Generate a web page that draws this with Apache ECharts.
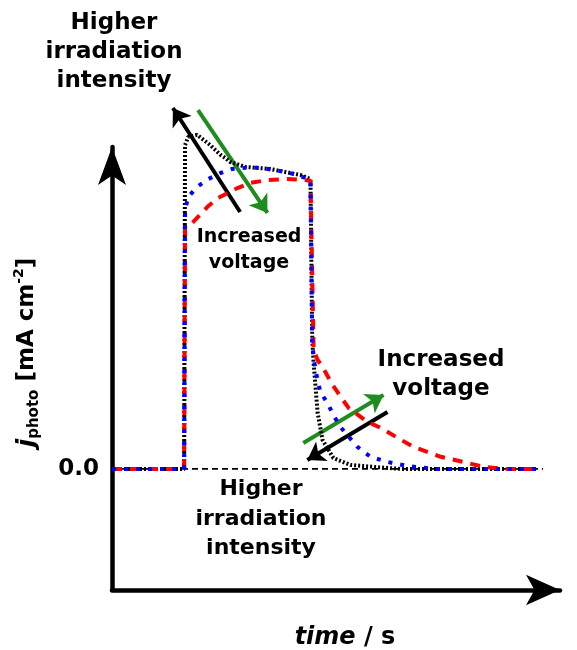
<!DOCTYPE html>
<html>
<head>
<meta charset="utf-8">
<script src="https://cdn.jsdelivr.net/npm/echarts@6/dist/echarts.min.js"></script>
<style>
  html, body { margin: 0; padding: 0; background: #fff; }
  #chart { width: 577px; height: 650px; }
</style>
</head>
<body>
<div id="chart"></div>
<script>
// photocurrent transients, [time, j] pairs (j normalised to plateau = 1)
var blackCurve = [
  [0, 0], [16.1, 0], [16.3, 1.12], [17.0, 1.149], [19.0, 1.156], [21.9, 1.121],
  [24.2, 1.087], [25.3, 1.076], [26.4, 1.062], [29.8, 1.045], [35.3, 1.038],
  [42.1, 1.017], [44.3, 1.003], [44.5, 0.997], [44.7, 0.446], [45.0, 0.367],
  [45.9, 0.194], [47.0, 0.100], [49.4, 0.038], [53.2, 0.014], [58.4, 0.007],
  [64.4, 0], [95.1, 0]
];
var blueCurve = [
  [0, 0], [16.1, 0], [16.3, 0.896], [17.0, 0.941], [19.0, 0.976], [21.5, 1.003],
  [24.2, 1.024], [26.8, 1.038], [29.8, 1.042], [33.1, 1.042], [35.8, 1.035],
  [38.7, 1.028], [41.4, 1.017], [44.3, 1.0], [44.5, 0.997], [44.7, 0.429],
  [45.4, 0.343], [46.5, 0.266], [48.1, 0.228], [49.4, 0.187], [51.0, 0.145],
  [54.8, 0.076], [57.7, 0.042], [61.5, 0.024], [66.0, 0.010], [71.8, 0], [95.1, 0]
];
var redCurve = [
  [0, 0], [16.1, 0], [16.3, 0.844], [17.9, 0.851], [21.3, 0.907], [23.7, 0.938],
  [28.0, 0.972], [30.9, 0.990], [34.9, 1.0], [39.1, 1.003], [42.7, 1.0],
  [44.3, 0.997], [45.0, 0.412], [45.9, 0.377], [47.0, 0.353], [49.2, 0.291],
  [52.8, 0.211], [57.0, 0.163], [60.0, 0.142], [63.8, 0.107], [67.3, 0.076],
  [73.4, 0.042], [78.5, 0.024], [83.0, 0.007], [87.5, 0], [95.1, 0]
];
var zeroLine = [[0, 0], [96.2, 0]];

// annotation arrows: [tail, tip]
var blackArrowUp = [[28.6, 0.889], [13.6, 1.249]];
var greenArrowUp = [[19.2, 1.242], [34.7, 0.886]];
var greenArrowDown = [[42.7, 0.090], [60.6, 0.256]];
var blackArrowDown = [[61.5, 0.197], [43.6, 0.031]];

var yTicks = [0];

var FONT = 'DejaVu Sans';
var chart = echarts.init(document.getElementById('chart'), null, { renderer: 'canvas' });

function curve(name, data, color, width, dash) {
  return {
    name: name,
    type: 'line',
    data: data,
    symbol: 'none',
    clip: false,
    silent: true,
    lineStyle: { color: color, width: width, type: dash, cap: 'butt' }
  };
}

function arrow(coords, color) {
  return {
    type: 'lines',
    coordinateSystem: 'cartesian2d',
    clip: false,
    silent: true,
    symbol: ['none', 'arrow'],
    symbolSize: 17,
    lineStyle: { color: color, width: 4, opacity: 1, curveness: 0 },
    data: [{ coords: coords }]
  };
}

function note(cx, top, text, size, lh) {
  return {
    type: 'text', x: cx, y: top, silent: true,
    style: { text: text, align: 'center', verticalAlign: 'top',
      font: 'bold ' + size + 'px "DejaVu Sans"', lineHeight: lh, fill: '#000' }
  };
}

var option = {
  animation: false,
  backgroundColor: '#fff',
  grid: { left: 112, right: 17, top: 147, bottom: 60, containLabel: false, outerBoundsMode: 'none' },
  xAxis: {
    type: 'value',
    min: 0,
    max: 100,
    name: '{t|time}{s| / s}',
    nameLocation: 'middle',
    nameGap: 36,
    nameTextStyle: {
      padding: [0, 0, 0, 18],
      rich: {
        t: { fontFamily: FONT, fontSize: 24, fontWeight: 'bold', fontStyle: 'italic', color: '#000' },
        s: { fontFamily: FONT, fontSize: 24, fontWeight: 'bold', color: '#000' }
      }
    },
    axisLine: {
      onZero: false,
      symbol: ['none', 'arrow'],
      symbolSize: [23, 34],
      lineStyle: { color: '#000', width: 4.5 }
    },
    axisTick: { show: false },
    axisLabel: { show: false },
    splitLine: { show: false }
  },
  yAxis: {
    type: 'value',
    min: -0.419,
    max: 1.114,
    name: '{j|j}{sub|photo}{m| [mA cm}{sup|-2}{m|]}',
    nameLocation: 'middle',
    nameGap: 70,
    nameRotate: 90,
    nameTextStyle: {
      padding: [0, 0, 0, 32],
      rich: {
        j: { fontFamily: FONT, fontSize: 25, fontWeight: 'bold', fontStyle: 'italic', color: '#000', lineHeight: 30 },
        sub: { fontFamily: FONT, fontSize: 15, fontWeight: 'bold', color: '#000', lineHeight: 16, verticalAlign: 'bottom' },
        m: { fontFamily: FONT, fontSize: 23, fontWeight: 'bold', color: '#000', lineHeight: 30 },
        sup: { fontFamily: FONT, fontSize: 14, fontWeight: 'bold', color: '#000', lineHeight: 15, verticalAlign: 'top' }
      }
    },
    axisLine: {
      symbol: ['none', 'arrow'],
      symbolSize: [21, 38],
      lineStyle: { color: '#000', width: 4.5 }
    },
    axisTick: { show: false },
    axisLabel: {
      customValues: yTicks,
      margin: 13,
      fontFamily: FONT,
      fontSize: 23,
      fontWeight: 'bold',
      color: '#000',
      formatter: function (v) { return v.toFixed(1); }
    },
    splitLine: { show: false }
  },
  graphic: [
    note(114, 9, 'Higher\nirradiation\nintensity', 23, 29),
    note(249, 224, 'Increased\nvoltage', 19, 26),
    note(441, 346, 'Increased\nvoltage', 23, 29),
    note(261, 475, 'Higher\nirradiation\nintensity', 22, 29.5)
  ],
  series: [
    curve('zero', zeroLine, '#000', 1.8, [6, 4]),
    curve('black', blackCurve, '#000', 4, [2, 2]),
    curve('red', redCurve, '#ff0000', 4, [10, 8]),
    curve('blue', blueCurve, '#0000ff', 4, [4, 8]),
    arrow(blackArrowUp, '#000'),
    arrow(greenArrowUp, '#1e8c1e'),
    arrow(greenArrowDown, '#1e8c1e'),
    arrow(blackArrowDown, '#000')
  ]
};

chart.setOption(option);
</script>
</body>
</html>
